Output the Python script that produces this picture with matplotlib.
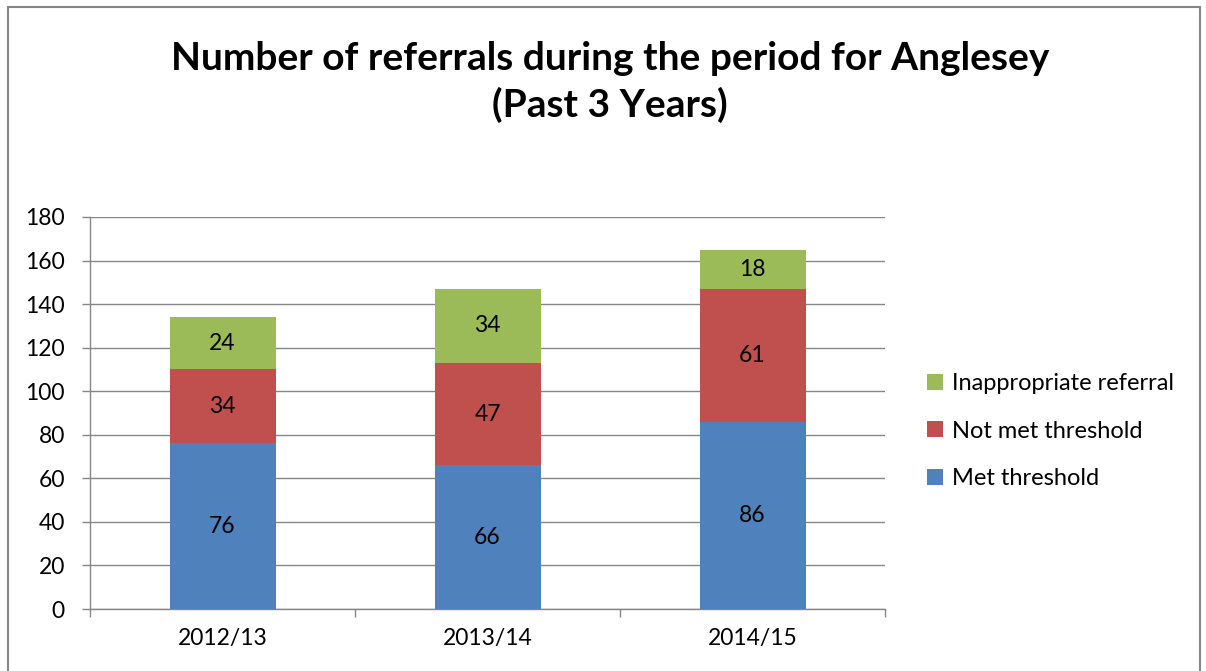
import matplotlib
matplotlib.use("Agg")
import matplotlib.pyplot as plt
from matplotlib.patches import Rectangle, Patch
import numpy as np

# ---- data ----
years = ["2012/13", "2013/14", "2014/15"]
met = [76, 66, 86]
not_met = [34, 47, 61]
inappropriate = [24, 34, 18]

series_names = ["Met threshold", "Not met threshold", "Inappropriate referral"]
colors = ["#4F81BD", "#C0504D", "#9BBB59"]

plt.rcParams["font.family"] = ["Lato", "DejaVu Sans"]

fig = plt.figure(figsize=(12.06, 6.71), dpi=100)
ax = fig.add_axes([90 / 1206, 1 - 609 / 671, 795 / 1206, 392 / 671])

x = np.arange(len(years))
bottom = np.zeros(len(years))
for vals, name, col in zip([met, not_met, inappropriate], series_names, colors):
    bars = ax.bar(x, vals, width=0.4, bottom=bottom, color=col, label=name, zorder=3)
    for b, v, b0 in zip(bars, vals, bottom):
        ax.text(b.get_x() + b.get_width() / 2, b0 + v / 2, str(v),
                ha="center", va="center", fontsize=16.5, color="black", zorder=4)
    bottom += np.array(vals)

ax.set_xlim(-0.5, len(years) - 0.5)
ax.set_ylim(0, 180)
ax.set_yticks(range(0, 181, 20))
ax.set_xticks(x)
ax.set_xticklabels(years)
ax.set_xticks(np.arange(-0.5, len(years), 1.0), minor=True)
ax.tick_params(axis="x", which="major", length=0, pad=14, labelsize=16.5)
ax.tick_params(axis="x", which="minor", length=6, color="#868686", width=1)
ax.tick_params(axis="y", length=6, color="#868686", width=1, labelsize=16.5, pad=12)
ax.grid(axis="y", color="#868686", linewidth=1, zorder=0)
for side in ["top", "right"]:
    ax.spines[side].set_visible(False)
for side in ["left", "bottom"]:
    ax.spines[side].set_color("#868686")
    ax.spines[side].set_linewidth(1)

handles = [Patch(facecolor=c, label=n) for c, n in zip(colors, series_names)][::-1]
fig.legend(handles=handles, loc="center left", bbox_to_anchor=(906 / 1206, 1 - 431 / 671),
           frameon=False, fontsize=17, handlelength=0.65, handleheight=0.65,
           handletextpad=0.4, labelspacing=1.12)

fig.text(610 / 1206, 1 - 82 / 671, "Number of referrals during the period for Anglesey\n(Past 3 Years)",
         ha="center", va="center", fontsize=28, fontweight="bold", linespacing=1.38)

fig.patches.append(Rectangle((8 / 1206, -0.1), 1192 / 1206, 1.1 - 7 / 671,
                             transform=fig.transFigure, fill=False,
                             edgecolor="#868686", linewidth=1.5))

fig.savefig("out.png", dpi=100)
